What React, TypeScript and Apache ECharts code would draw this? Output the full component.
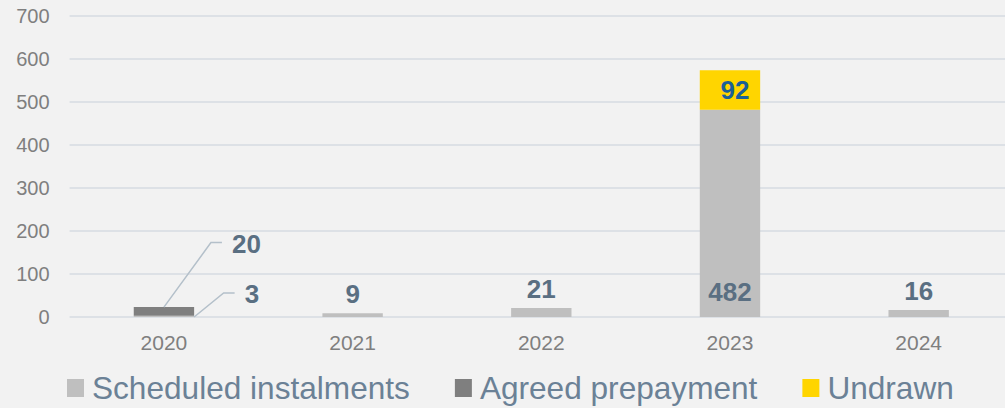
import React, { useEffect, useRef } from "react";
import * as echarts from "echarts";

const categories = ["2020", "2021", "2022", "2023", "2024"];
const scheduled = [3, 9, 21, 482, 16];
const agreed = [20, null, null, null, null];
const undrawn = [null, null, null, 92, null];
const yTicks = [0, 700, 100]; // min, max, interval
const seriesNames = ["Scheduled instalments", "Agreed prepayment", "Undrawn"];
// leader-line annotations for 2020: [category index, stacked anchor value, label value, kind]
const leaders = [
  [0, (scheduled[0] as number) + (agreed[0] as number), agreed[0] as number, 0],
  [0, 0, scheduled[0], 1],
];

const FONT = '"Liberation Sans", Arial, sans-serif';
const LABEL_COLOR = "#5a6f82";

export default function App() {
  const ref = useRef<HTMLDivElement>(null);
  useEffect(() => {
    if (!ref.current) return;
    const chart = echarts.init(ref.current, undefined, { renderer: "svg" });
    const labelBase = {
      show: true,
      fontFamily: FONT,
      fontSize: 26,
      fontWeight: "bold" as const,
      color: LABEL_COLOR,
    };
    chart.setOption({
      animation: false,
      backgroundColor: "#f2f2f2",
      textStyle: { fontFamily: FONT },
      grid: { left: 69.6, right: 3, top: 16, height: 301, containLabel: false },
      legend: {
        data: seriesNames,
        left: 67,
        top: 372,
        padding: 0,
        itemGap: 45,
        itemWidth: 17,
        itemHeight: 18,
        icon: "rect",
        textStyle: { fontSize: 31.6, color: "#6b8196", fontFamily: FONT, padding: [0, 0, 0, 3] },
      },
      xAxis: {
        type: "category",
        data: categories,
        axisLine: { show: false },
        axisTick: { show: false },
        axisLabel: { color: "#7f7f7f", fontSize: 21, margin: 15, fontFamily: FONT },
      },
      yAxis: {
        type: "value",
        min: yTicks[0],
        max: yTicks[1],
        interval: yTicks[2],
        axisLine: { show: false },
        axisTick: { show: false },
        axisLabel: { color: "#7f7f7f", fontSize: 20, margin: 20, fontFamily: FONT },
        splitLine: { lineStyle: { color: "#dde1e6", width: 2 } },
      },
      series: [
        {
          name: seriesNames[0],
          type: "bar",
          stack: "total",
          barWidth: "32%",
          itemStyle: { color: "#bfbfbf" },
          data: scheduled.map((v, i) => ({
            value: v,
            label:
              i === 0
                ? { show: false }
                : i === 3
                ? { ...labelBase, position: "insideBottom", distance: 12 }
                : { ...labelBase, position: "top", distance: 6 },
          })),
        },
        {
          name: seriesNames[1],
          type: "bar",
          stack: "total",
          barWidth: "32%",
          itemStyle: { color: "#7f7f7f" },
          data: agreed,
        },
        {
          name: seriesNames[2],
          type: "bar",
          stack: "total",
          barWidth: "32%",
          itemStyle: { color: "#ffd500" },
          label: { ...labelBase, position: "inside", color: "#1b5f97", offset: [5, 0] },
          data: undrawn,
        },
        {
          type: "custom",
          silent: true,
          z: 10,
          data: leaders,
          renderItem: (params: any, api: any) => {
            const cat = api.value(0);
            const anchorVal = api.value(1);
            const text = String(api.value(2));
            const kind = api.value(3);
            const p = api.coord([cat, anchorVal]);
            const bw = api.size([1, 0])[0] * 0.32;
            let start: number[];
            let mid: number[];
            if (kind === 0) {
              start = [p[0], p[1]];
              mid = [p[0] + 47, p[1] - 64.5];
            } else {
              start = [p[0] + bw / 2, p[1]];
              mid = [p[0] + bw / 2 + 29.5, p[1] - 24];
            }
            const end = [mid[0] + 11, mid[1]];
            return {
              type: "group",
              children: [
                {
                  type: "polyline",
                  shape: { points: [start, mid, end] },
                  style: { stroke: "#b4c0ca", lineWidth: 1.5, fill: null },
                },
                {
                  type: "text",
                  x: end[0] + 10,
                  y: end[1] + 1,
                  style: {
                    text,
                    fill: LABEL_COLOR,
                    fontSize: 26,
                    fontWeight: "bold",
                    fontFamily: FONT,
                    align: "left",
                    verticalAlign: "middle",
                  },
                },
              ],
            };
          },
        },
      ],
    });
    return () => chart.dispose();
  }, []);
  return (
    <div style={{ position: "fixed", left: 0, top: 0, width: 1005, height: 408, overflow: "hidden" }}>
      <div ref={ref} style={{ width: 1016, height: 408 }} />
    </div>
  );
}
